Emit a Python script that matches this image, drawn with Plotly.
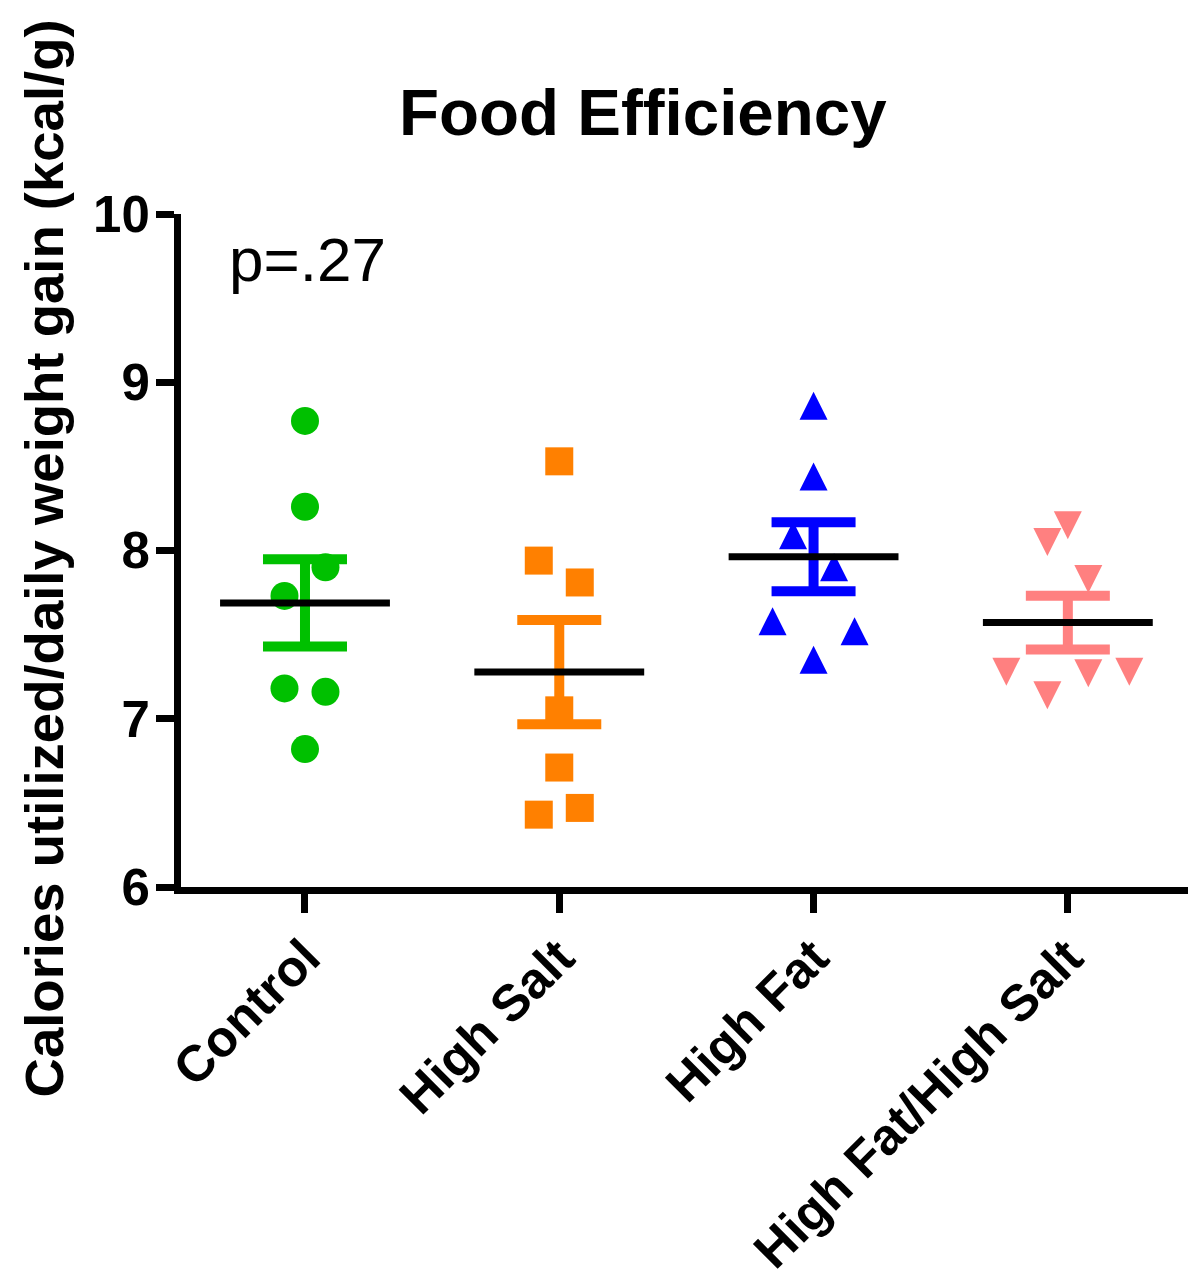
import numpy as np
import plotly.graph_objects as go

# ---- data ----
categories = ["Control", "High Salt", "High Fat", "High Fat/High Salt"]
control = [8.77, 8.26, 7.90, 7.73, 7.18, 7.16, 6.82]
high_salt = [8.53, 7.94, 7.81, 7.05, 6.71, 6.47, 6.43]
high_fat = [8.86, 8.44, 8.09, 7.90, 7.58, 7.52, 7.35]
high_fat_salt = [8.15, 8.05, 7.83, 7.28, 7.28, 7.27, 7.14]
y_ticks = [6, 7, 8, 9, 10]
p_text = "p=.27"

# ---- styling (scatter-column slot for each point, colours, symbols) ----
slots = [
    [0, 0, 1, -1, -1, 1, 0],
    [0, -1, 1, 0, 0, 1, -1],
    [0, 0, -1, 1, -2, 2, 0],
    [0, -1, 1, -3, 3, 1, -1],
]
JIT = 0.0806
colors = ["#00C000", "#FF8000", "#0000FF", "#FF8080"]
MS = 28
symbols = [
    dict(symbol="circle", size=MS),
    dict(symbol="square", size=MS),
    dict(symbol="arrow-down", size=MS, angle=180, standoff=MS / 2),
    dict(symbol="arrow-down", size=MS, angle=0, standoff=MS / 2),
]
groups = [control, high_salt, high_fat, high_fat_salt]
HALF = 0.334

FONT = "Liberation Sans, Arial, Helvetica, sans-serif"

fig = go.Figure()

# points
for i, (vals, sl) in enumerate(zip(groups, slots)):
    m = dict(symbols[i])
    m["color"] = colors[i]
    m["line"] = dict(width=0)
    fig.add_trace(go.Scatter(
        x=[i + s * JIT for s in sl], y=vals, mode="markers",
        marker=m, showlegend=False, hoverinfo="skip"))

# error bars (mean +/- SEM)
for i, vals in enumerate(groups):
    a = np.array(vals)
    mean = a.mean()
    sem = a.std(ddof=1) / np.sqrt(len(a))
    fig.add_trace(go.Scatter(
        x=[i], y=[mean], mode="markers",
        marker=dict(size=1, color="rgba(0,0,0,0)"),
        error_y=dict(type="data", array=[sem], visible=True,
                     color=colors[i], thickness=10, width=42),
        showlegend=False, hoverinfo="skip"))

# mean lines
for i, vals in enumerate(groups):
    mean = float(np.mean(vals))
    fig.add_trace(go.Scatter(
        x=[i - HALF, i + HALF], y=[mean, mean], mode="lines",
        line=dict(color="black", width=7),
        showlegend=False, hoverinfo="skip"))

W, H = 1188, 1271
L, T = 173, 206
PW, PH = 1015, 676

fig.update_layout(
    width=W, height=H,
    margin=dict(l=L, r=W - L - PW, t=T, b=H - T - PH),
    plot_bgcolor="white", paper_bgcolor="white",
    hovermode=False,
    font=dict(family=FONT, color="black"),
)

fig.update_xaxes(
    range=[-0.4876, 3.504],
    tickmode="array", tickvals=list(range(len(categories))), ticktext=categories,
    tickangle=-45,
    tickfont=dict(family=FONT, size=51, weight="bold", color="black"),
    ticklabelstandoff=-6,
    showline=True, linecolor="black", linewidth=7,
    ticks="outside", ticklen=19, tickwidth=7, tickcolor="black",
    showgrid=False, zeroline=False,
)
fig.update_yaxes(
    range=[6, 10],
    tickmode="array", tickvals=y_ticks, ticktext=[str(t) for t in y_ticks],
    tickfont=dict(family=FONT, size=51, weight="bold", color="black"),
    ticklabelstandoff=-4,
    showline=True, linecolor="black", linewidth=7,
    ticks="outside", ticklen=18, tickwidth=7, tickcolor="black",
    showgrid=False, zeroline=False,
)

# title
fig.add_annotation(
    text="Food Efficiency", xref="paper", yref="paper",
    x=(643 - 181) / PW, y=(889 - 111) / PH,
    xanchor="center", yanchor="middle", showarrow=False,
    font=dict(family=FONT, size=65.5, weight="bold", color="black"))

# y-axis title
fig.add_annotation(
    text="Calories utilized/daily weight gain (kcal/g)", xref="paper", yref="paper",
    x=(44 - 181) / PW, y=(889 - 559) / PH, textangle=-90,
    xanchor="center", yanchor="middle", showarrow=False,
    font=dict(family=FONT, size=54.5, weight="bold", color="black"))

# p-value
fig.add_annotation(
    text=p_text, xref="x", yref="y", x=0.01, y=9.73,
    xanchor="center", yanchor="middle", showarrow=False,
    font=dict(family=FONT, size=62, color="black"))

fig.write_html("out.html")
